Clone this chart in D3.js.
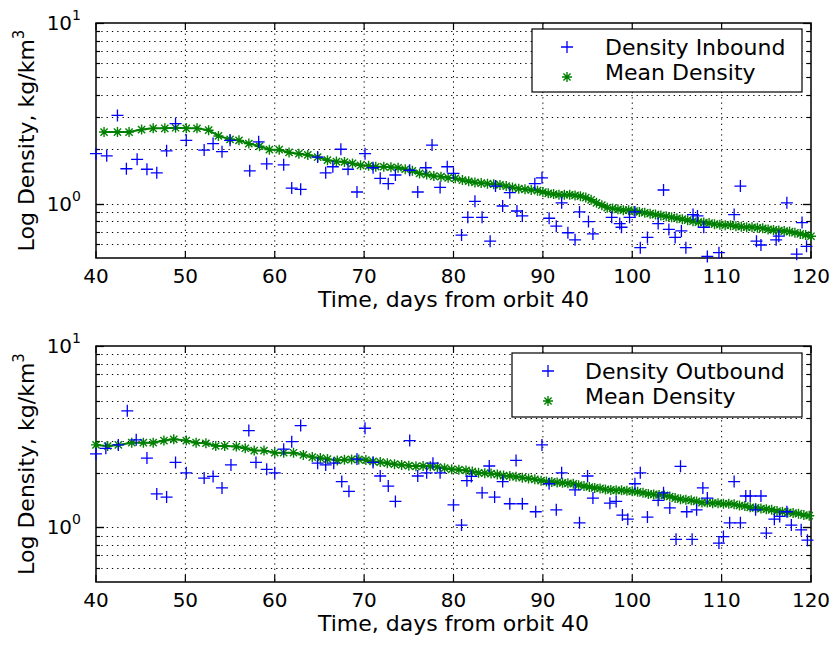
<!DOCTYPE html>
<html>
<head>
<meta charset="utf-8">
<script src="https://cdn.jsdelivr.net/npm/d3@7"></script>
<style>
    body { margin: 0; background: #fff; }
    svg { display: block; font-family: "DejaVu Sans", sans-serif; }
</style>
</head>
<body>
<svg id="chart" width="833" height="645"></svg>
<script>
/*
    Inbound / outbound density with running mean, two log panels
 */

// x ticks shared by both panels
const xTicks = [40, 50, 60, 70, 80, 90, 100, 110, 120];
const yGridValues = [0.6, 0.7, 0.8, 0.9, 1, 2, 3, 4, 5, 6, 7, 8, 9];
const yMajorTicks = [1, 10];

// top panel: inbound
const inboundDays = [40.0, 41.2, 42.4, 43.4, 44.6, 45.7, 46.8, 47.9, 48.9, 50.1, 52.1, 53.1, 54.1, 55.0,
    57.2, 58.2, 59.1, 61.0, 61.9, 62.9, 64.8, 65.7, 66.5, 67.4, 68.2, 69.2, 70.1, 71.0, 71.8, 72.7,
    73.5, 75.1, 76.0, 76.9, 77.6, 78.5, 79.3, 80.0, 80.9, 81.6, 82.4, 83.2, 84.1, 84.7, 85.5, 86.3,
    87.1, 87.7, 89.1, 89.9, 90.7, 91.5, 92.1, 92.8, 93.6, 94.1, 95.1, 95.6, 97.7, 98.6, 98.8, 99.7,
    100.3, 100.9, 101.7, 102.9, 103.5, 104.1, 104.8, 105.5, 106.0, 106.8, 107.3, 108.0, 108.4, 109.7,
    111.4, 112.1, 113.9, 114.4, 116.1, 116.4, 117.3, 118.4, 119.0, 119.5];
const inboundDensity = [1.89, 1.84, 3.08, 1.56, 1.76, 1.55, 1.48, 1.96, 2.77, 2.24, 1.98, 2.15, 1.94, 2.24,
    1.52, 2.20, 1.66, 1.64, 1.22, 1.20, 1.81, 1.48, 1.60, 2.00, 1.55, 1.16, 1.89, 1.58, 1.38, 1.29,
    1.44, 1.53, 1.16, 1.58, 2.11, 1.23, 1.60, 1.47, 0.67, 0.84, 1.03, 0.84, 0.62, 1.25, 0.97, 1.15,
    0.91, 0.855, 1.29, 1.39, 0.83, 0.75, 1.01, 0.69, 0.63, 0.90, 0.795, 0.68, 0.84, 0.775, 0.74, 0.84,
    0.90, 0.57, 0.65, 0.775, 1.19, 0.72, 0.65, 0.706, 0.57, 0.87, 0.855, 0.74, 0.51, 0.535,
    0.87, 1.25, 0.62, 0.59, 0.63, 0.66, 1.01, 0.525, 0.785, 0.58];

const meanInDays = [40.9, 42.4, 43.7, 45.1, 46.4, 47.7, 48.9, 50.1, 51.3, 52.6, 53.7, 55.0, 56.0, 57.1,
    58.3, 59.4, 60.5, 61.6, 62.7, 63.7, 64.8, 65.9, 66.9, 67.8, 68.7, 69.6, 70.5, 71.3, 72.2, 73.0,
    73.8, 74.6, 75.4, 76.2, 77.0, 77.8, 78.6, 79.4, 80.2, 81.0, 81.7, 82.4, 83.1, 83.8, 84.5, 85.2,
    85.9, 86.6, 87.3, 88.0, 88.7, 89.4, 90.0, 90.6, 91.2, 91.8, 92.4, 93.0, 93.6, 94.2, 94.8, 95.4,
    96.0, 96.6, 97.2, 97.8, 98.4, 99.0, 99.6, 100.2, 100.8, 101.4, 102.0, 102.6, 103.2, 103.8, 104.4,
    105.0, 105.6, 106.2, 106.8, 107.4, 108.0, 108.6, 109.2, 109.8, 110.4, 111.0, 111.6, 112.2, 112.8,
    113.4, 114.0, 114.6, 115.2, 115.8, 116.4, 117.0, 117.6, 118.2, 118.8, 119.4, 120.0];
const meanInDensity = [2.49, 2.49, 2.49, 2.57, 2.61, 2.61, 2.63, 2.61, 2.61, 2.55, 2.37, 2.27, 2.24, 2.15,
    2.08, 1.99, 1.99, 1.92, 1.89, 1.86, 1.81, 1.74, 1.71, 1.70, 1.67, 1.63, 1.62, 1.60, 1.60, 1.59,
    1.58, 1.55, 1.52, 1.47, 1.45, 1.42, 1.41, 1.39, 1.38, 1.35, 1.33, 1.31, 1.30, 1.29, 1.28, 1.27,
    1.25, 1.23, 1.21, 1.20, 1.19, 1.18, 1.16, 1.14, 1.13, 1.12, 1.12, 1.12, 1.11, 1.10, 1.08, 1.05,
    1.01, 0.98, 0.95, 0.94, 0.93, 0.92, 0.92, 0.91, 0.90, 0.89, 0.88, 0.87, 0.86, 0.85, 0.84,
    0.83, 0.82, 0.81, 0.80, 0.79, 0.785, 0.78, 0.77, 0.765, 0.76, 0.76, 0.75, 0.745, 0.74,
    0.74, 0.735, 0.73, 0.72, 0.715, 0.71, 0.705, 0.70, 0.69, 0.68, 0.67, 0.66];

// bottom panel: outbound
const outboundDays = [40.0, 41.1, 42.5, 43.5, 44.5, 45.7, 46.8, 47.9, 48.9, 50.1, 52.1, 53.1, 54.1, 55.1,
    57.1, 57.9, 59.1, 60.0, 61.0, 61.9, 62.9, 64.8, 65.7, 66.6, 67.5, 68.3, 69.2, 70.1, 71.0, 71.8,
    72.7, 73.5, 75.1, 76.0, 77.0, 77.7, 78.5, 80.0, 80.9, 81.5, 82.0, 83.2, 84.0, 84.6, 85.5, 86.3,
    87.0, 87.7, 89.2, 89.9, 90.7, 91.5, 92.1, 93.6, 94.1, 95.0, 95.6, 97.5, 98.2, 98.9, 99.5, 100.3,
    100.9, 101.7, 102.9, 103.5, 104.2, 104.9, 105.4, 106.1, 106.7, 107.2, 107.9, 108.4, 109.7, 110.2,
    110.9, 111.4, 112.1, 112.7, 113.2, 113.8, 114.4, 115.0, 115.9, 116.5, 117.3, 117.8, 118.9, 119.6];
const outboundDensity = [2.54, 2.73, 2.85, 4.39, 3.04, 2.41, 1.53, 1.47, 2.28, 2.00, 1.87, 1.91, 1.65, 2.21,
    3.42, 2.28, 2.09, 2.00, 2.70, 2.97, 3.64, 2.26, 2.21, 2.26, 1.79, 1.58, 2.38, 3.52, 2.28, 1.92,
    1.69, 1.39, 3.01, 1.92, 2.00, 2.26, 2.00, 1.33, 1.03, 1.81, 1.91, 1.55, 2.18, 1.47, 1.79, 1.35,
    2.34, 1.35, 1.22, 2.85, 1.74, 1.25, 2.00, 1.61, 1.06, 1.92, 1.45, 1.36, 1.39, 1.17, 1.11, 1.74,
    2.00, 1.14, 1.41, 1.55, 1.28, 0.86, 2.17, 1.22, 0.86, 1.25, 1.65, 1.45, 0.82, 0.89,
    1.06, 1.79, 1.06, 1.49, 1.49, 1.25, 1.49, 0.93, 1.11, 1.15, 1.22, 1.03, 0.97, 0.85];

const meanOutDays = [40.0, 41.3, 42.5, 44.0, 45.3, 46.4, 47.6, 48.7, 50.1, 51.2, 52.3, 53.4, 54.4, 55.7,
    56.7, 57.7, 58.8, 60.0, 61.0, 62.1, 63.2, 64.2, 65.1, 65.9, 67.0, 67.8, 68.6, 69.4, 70.2, 71.0,
    71.8, 72.6, 73.4, 74.2, 75.0, 75.8, 76.6, 77.4, 78.2, 79.0, 79.8, 80.6, 81.4, 82.1, 82.8, 83.5,
    84.2, 84.9, 85.6, 86.3, 87.0, 87.7, 88.4, 89.1, 89.8, 90.4, 91.0, 91.6, 92.2, 92.8, 93.4, 94.0,
    94.6, 95.2, 95.8, 96.4, 97.0, 97.6, 98.2, 98.8, 99.4, 100.0, 100.6, 101.2, 101.8, 102.4, 103.0,
    103.6, 104.2, 104.8, 105.4, 106.0, 106.6, 107.2, 107.8, 108.4, 109.0, 109.6, 110.2, 110.8, 111.4,
    112.0, 112.6, 113.2, 113.8, 114.4, 115.0, 115.6, 116.2, 116.8, 117.4, 118.0, 118.6, 119.2, 119.8];
const meanOutDensity = [2.85, 2.81, 2.85, 2.93, 2.93, 2.93, 3.01, 3.06, 3.01, 2.93, 2.91, 2.81, 2.81, 2.79,
    2.73, 2.65, 2.65, 2.58, 2.58, 2.58, 2.51, 2.44, 2.41, 2.38, 2.34, 2.36, 2.37, 2.37, 2.35, 2.31,
    2.29, 2.26, 2.23, 2.21, 2.19, 2.17, 2.18, 2.17, 2.15, 2.12, 2.09, 2.08, 2.06, 2.03, 2.00, 1.99,
    1.98, 1.96, 1.93, 1.92, 1.90, 1.88, 1.86, 1.84, 1.81, 1.79, 1.78, 1.77, 1.76, 1.75, 1.74, 1.71,
    1.69, 1.67, 1.65, 1.64, 1.62, 1.61, 1.60, 1.60, 1.59, 1.58, 1.57, 1.55, 1.53, 1.52, 1.51,
    1.50, 1.48, 1.45, 1.43, 1.42, 1.41, 1.39, 1.37, 1.37, 1.36, 1.36, 1.35, 1.35, 1.34,
    1.32, 1.31, 1.29, 1.28, 1.27, 1.26, 1.25, 1.23, 1.22, 1.21, 1.20, 1.19, 1.17, 1.16];

const xLabel = "Time, days from orbit 40";
const yLabel = "Log Density, kg/km";

const svg = d3.select("#chart");

const PLUS = "M-6,0H6M0,-6V6";
const STAR = "M-5,0H5M0,-5V5M-3.6,-3.6L3.6,3.6M-3.6,3.6L3.6,-3.6";

function drawPanel(opts) {
    let g = svg.append("g");
    let x = d3.scaleLinear().domain([40, 120]).range([opts.left, opts.right]);
    let y = d3.scaleLog().domain([0.5, 10]).range([opts.bottom, opts.top]);

    // dotted grid
    g.selectAll(".vgrid").data(xTicks.slice(1, -1)).enter().append("line")
        .attr("class", "vgrid")
        .attr("x1", d => x(d)).attr("x2", d => x(d))
        .attr("y1", opts.top).attr("y2", opts.bottom)
        .attr("stroke", "#000").attr("stroke-width", 1).attr("stroke-dasharray", "1.3,4");
    g.selectAll(".hgrid").data(yGridValues).enter().append("line")
        .attr("class", "hgrid")
        .attr("x1", opts.left).attr("x2", opts.right)
        .attr("y1", d => Math.round(y(d)) + 0.5).attr("y2", d => Math.round(y(d)) + 0.5)
        .attr("stroke", "#000").attr("stroke-width", 1).attr("stroke-dasharray", "1.3,4");

    // inward ticks on all four sides
    xTicks.forEach(t => {
        g.append("line").attr("x1", x(t)).attr("x2", x(t))
            .attr("y1", opts.bottom).attr("y2", opts.bottom - 7)
            .attr("stroke", "#000").attr("stroke-width", 1.2);
        g.append("line").attr("x1", x(t)).attr("x2", x(t))
            .attr("y1", opts.top).attr("y2", opts.top + 7)
            .attr("stroke", "#000").attr("stroke-width", 1.2);
    });
    yGridValues.concat(yMajorTicks).forEach(t => {
        let len = yMajorTicks.includes(t) ? 8 : 4;
        let yy = Math.round(y(t)) + 0.5;
        g.append("line").attr("x1", opts.left).attr("x2", opts.left + len)
            .attr("y1", yy).attr("y2", yy).attr("stroke", "#000").attr("stroke-width", 1.2);
        g.append("line").attr("x1", opts.right).attr("x2", opts.right - len)
            .attr("y1", yy).attr("y2", yy).attr("stroke", "#000").attr("stroke-width", 1.2);
    });

    // frame
    g.append("rect")
        .attr("x", opts.left).attr("y", opts.top)
        .attr("width", opts.right - opts.left).attr("height", opts.bottom - opts.top)
        .attr("fill", "none").attr("stroke", "#000").attr("stroke-width", 1.5);

    // x tick labels
    g.selectAll(".xlab").data(xTicks).enter().append("text")
        .attr("x", d => x(d)).attr("y", opts.bottom + 25)
        .attr("text-anchor", "middle").attr("font-size", 20)
        .text(d => d);

    // y tick labels as 10^n
    yMajorTicks.forEach(t => {
        let txt = g.append("text")
            .attr("x", opts.left - 15).attr("y", y(t) + 7)
            .attr("text-anchor", "end").attr("font-size", 20);
        txt.append("tspan").text("10");
        txt.append("tspan").attr("font-size", 14).attr("dy", -10).text(Math.round(Math.log10(t)));
    });

    // axis labels
    g.append("text")
        .attr("x", (opts.left + opts.right) / 2).attr("y", opts.bottom + 49)
        .attr("text-anchor", "middle").attr("font-size", 22)
        .text(xLabel);
    let yl = g.append("text")
        .attr("transform", `translate(34,${(opts.top + opts.bottom) / 2}) rotate(-90)`)
        .attr("text-anchor", "middle").attr("font-size", 22);
    yl.append("tspan").text(yLabel);
    yl.append("tspan").attr("font-size", 15).attr("dy", -10).text("3");

    // mean line with star markers
    let meanPts = opts.meanDays.map((d, i) => [d, opts.meanDensity[i]]);
    g.append("path")
        .datum(meanPts)
        .attr("d", d3.line().x(d => x(d[0])).y(d => y(d[1])))
        .attr("fill", "none").attr("stroke", "#008000").attr("stroke-width", 2);
    g.selectAll(".star").data(meanPts).enter().append("path")
        .attr("class", "star")
        .attr("transform", d => `translate(${x(d[0])},${y(d[1])})`)
        .attr("d", STAR)
        .attr("stroke", "#008000").attr("stroke-width", 1.4).attr("fill", "none");

    // individual passes as plus markers
    let pts = opts.days.map((d, i) => [d, opts.density[i]]);
    g.selectAll(".plus").data(pts).enter().append("path")
        .attr("class", "plus")
        .attr("transform", d => `translate(${x(d[0])},${y(d[1])})`)
        .attr("d", PLUS)
        .attr("stroke", "#0000ff").attr("stroke-width", 1.3).attr("fill", "none");

    // legend box
    let lg = opts.legend;
    g.append("rect")
        .attr("x", lg.x).attr("y", lg.y).attr("width", lg.w).attr("height", lg.h)
        .attr("fill", "#fff").attr("stroke", "#000").attr("stroke-width", 1.2);
    g.append("path")
        .attr("transform", `translate(${lg.markerX},${lg.y + 18})`)
        .attr("d", PLUS).attr("stroke", "#0000ff").attr("stroke-width", 1.3);
    g.append("path")
        .attr("transform", `translate(${lg.markerX},${lg.y + 48})`)
        .attr("d", STAR).attr("stroke", "#008000").attr("stroke-width", 1.4);
    g.append("text").attr("x", lg.textX).attr("y", lg.y + 26)
        .attr("font-size", 22).text(lg.first);
    g.append("text").attr("x", lg.textX).attr("y", lg.y + 51)
        .attr("font-size", 22).text("Mean Density");
}

drawPanel({
    left: 96, right: 811, top: 23, bottom: 258,
    days: inboundDays, density: inboundDensity,
    meanDays: meanInDays, meanDensity: meanInDensity,
    legend: { x: 532, y: 29, w: 270, h: 63, markerX: 567, textX: 605, first: "Density Inbound" }
});

drawPanel({
    left: 96, right: 811, top: 346, bottom: 582,
    days: outboundDays, density: outboundDensity,
    meanDays: meanOutDays, meanDensity: meanOutDensity,
    legend: { x: 512, y: 353, w: 290, h: 64, markerX: 548, textX: 585, first: "Density Outbound" }
});
</script>
</body>
</html>
